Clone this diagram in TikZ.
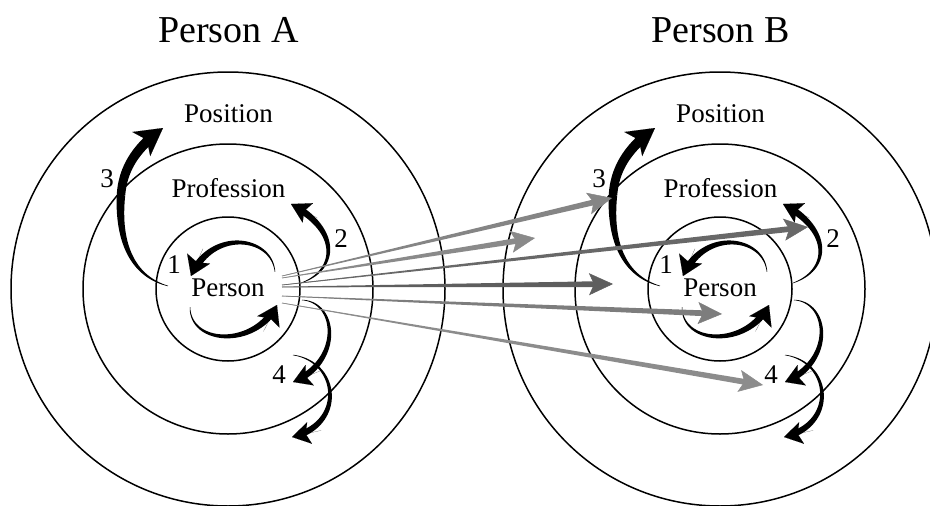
\documentclass[tikz,border=0pt]{standalone}
\usepackage{fontspec}
\setmainfont{Liberation Serif}
\usetikzlibrary{arrows.meta,calc}

\definecolor{linkA}{HTML}{858585}
\definecolor{linkB}{HTML}{8A8A8A}
\definecolor{linkC}{HTML}{686868}
\definecolor{linkD}{HTML}{5E5E5E}
\definecolor{linkE}{HTML}{7D7D7D}
\definecolor{linkF}{HTML}{8C8C8C}

\tikzset{
  ring/.style={draw=black, line width=1.5pt},
  lbl/.style={anchor=base, inner sep=0pt, font=\fontsize{27}{31}\selectfont},
  ttl/.style={anchor=base, inner sep=0pt, font=\fontsize{38}{44}\selectfont},
  curl/.style={color=black, line width=0.05pt},
  declare function={
    bz(\tq,\pA,\pB,\pC,\pD)=(1-\tq)*(1-\tq)*(1-\tq)*\pA+3*(1-\tq)*(1-\tq)*\tq*\pB+3*(1-\tq)*\tq*\tq*\pC+\tq*\tq*\tq*\pD;
    dbz(\tq,\pA,\pB,\pC,\pD)=3*(1-\tq)*(1-\tq)*(\pB-\pA)+6*(1-\tq)*\tq*(\pC-\pB)+3*\tq*\tq*(\pD-\pC);
  }
}

% control points of the current curve
\def\setbez(#1,#2)(#3,#4)(#5,#6)(#7,#8){%
  \def\xa{#1}\def\ya{#2}\def\xb{#3}\def\yb{#4}%
  \def\xc{#5}\def\yc{#6}\def\xd{#7}\def\yd{#8}}
\newcommand\bzx{bz(\tq,\xa,\xb,\xc,\xd)}
\newcommand\bzy{bz(\tq,\ya,\yb,\yc,\yd)}
\newcommand\dzx{dbz(\tq,\xa,\xb,\xc,\xd)}
\newcommand\dzy{dbz(\tq,\ya,\yb,\yc,\yd)}
% filled stroke along the current curve, width #1 -> #2, up to parameter #3
\newcommand\taperbez[3]{%
  \fill plot[variable=\tq, domain=0:#3, samples=40]
      ({\bzx-0.5*(#1+(#2-#1)*\tq/#3)*\dzy/veclen(\dzx,\dzy)},
       {\bzy+0.5*(#1+(#2-#1)*\tq/#3)*\dzx/veclen(\dzx,\dzy)})
    -- plot[variable=\tq, domain=#3:0, samples=40]
      ({\bzx+0.5*(#1+(#2-#1)*\tq/#3)*\dzy/veclen(\dzx,\dzy)},
       {\bzy-0.5*(#1+(#2-#1)*\tq/#3)*\dzx/veclen(\dzx,\dzy)})
    -- cycle;}
% arrow head at the end of the current curve, along its end tangent
\newcommand\bezhead[1]{%
  \draw[curl, -{#1}] ($(\xd,\yd)!30pt!(\xc,\yc)$) -- (\xd,\yd);}

% straight link that widens toward its head
\newcommand\link[3]{%
  \coordinate (lk) at ($(#2)!17pt!(#1)$);
  \fill[#3] ($(#1)!0.3pt!90:(#2)$) -- ($(lk)!2.9pt!-90:(#1)$)
    -- ($(lk)!2.9pt!90:(#1)$) -- ($(#1)!0.3pt!-90:(#2)$) -- cycle;
  \draw[#3, line width=0.5pt, -{Stealth[length=24pt,width=22pt,inset=5pt]}] (#1) -- (#2);}

% one person: three rings, their labels and the four feedback loops
\newcommand\personrings[3]{%
\begin{scope}[xshift=#1]
  \draw[ring] (228,289) circle[radius=217pt];
  \draw[ring] (228,289) circle[radius=145pt];
  \draw[ring] (228,289) circle[radius=72pt];
  \node[ttl] (#2-title) at (228.5,42) {#3};
  \node[lbl] (#2-pos) at (228.5,122) {Position};
  \node[lbl] (#2-prof) at (228.5,197) {Profession};
  \node[lbl] (#2-pers) at (228,296) {Person};
  \node[lbl] (#2-n1) at (174,273) {1};
  \node[lbl] (#2-n2) at (341,247) {2};
  \node[lbl] (#2-n3) at (107,187) {3};
  \node[lbl] (#2-n4) at (279,383) {4};
  % loop 1, upper half
  \setbez(275,272)(272,236)(212,228)(191,276)
  \taperbez{0.5}{7}{0.95}
  \bezhead{Stealth[length=19pt,width=25pt,inset=4pt]}
  % loop 1, lower half
  \setbez(190,307)(190,345)(255,348)(277,305)
  \taperbez{0.5}{7}{0.95}
  \bezhead{Stealth[length=19pt,width=25pt,inset=4pt]}
  % loop 2
  \setbez(301,283)(338,270)(340,230)(291,204)
  \taperbez{0.5}{7}{0.95}
  \bezhead{Stealth[length=19pt,width=22pt,inset=4pt]}
  % loop 3
  \setbez(168,286)(128,275)(118,235)(121,195)
  \taperbez{0.5}{8.5}{1}
  \setbez(121,195)(123,165)(140,145)(163,128)
  \taperbez{8.5}{10}{0.87}
  \bezhead{Stealth[length=27pt,width=30pt,inset=7pt]}
  % loop 4, two steps outward
  \setbez(302,300)(338,302)(342,362)(293,382)
  \taperbez{0.5}{6.5}{0.95}
  \bezhead{Stealth[length=18pt,width=22pt,inset=4pt]}
  \setbez(293,355)(340,362)(345,425)(292,437)
  \taperbez{0.5}{6.5}{0.95}
  \bezhead{Stealth[length=18pt,width=22pt,inset=4pt]}
\end{scope}}

\begin{document}
\begin{tikzpicture}[x=1pt, y=-1pt]
  \useasboundingbox (0,0) rectangle (930,506);
  \personrings{0pt}{A}{Person A}
  \personrings{492pt}{B}{Person B}

  % links from person A into the rings of person B
  \coordinate (sa) at (282,276);
  \coordinate (sb) at (282,278);
  \coordinate (sc) at (282,285);
  \coordinate (sd) at (282,287);
  \coordinate (se) at (282,296);
  \coordinate (sf) at (282,303);
  \coordinate (ta) at (612,198);
  \coordinate (tb) at (535,238);
  \coordinate (tc) at (808,227);
  \coordinate (td) at (613,284);
  \coordinate (te) at (722,314);
  \coordinate (tf) at (763,385);
  \link{sa}{ta}{linkA}
  \link{sb}{tb}{linkB}
  \link{sc}{tc}{linkC}
  \link{sd}{td}{linkD}
  \link{se}{te}{linkE}
  \link{sf}{tf}{linkF}
\end{tikzpicture}
\end{document}
